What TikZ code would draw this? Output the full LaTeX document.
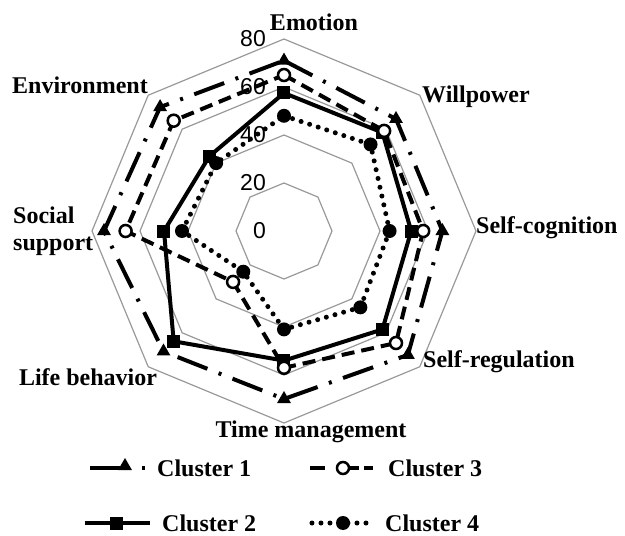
\documentclass[tikz,border=0pt]{standalone}
\usepackage{fontspec}
\setmainfont{Liberation Serif}
\setsansfont{Liberation Sans}
\usetikzlibrary{positioning,shapes.geometric}

\tikzset{
  ring/.style={draw=black!40, line width=1.2pt},
  axisnum/.style={anchor=east, inner sep=0pt, font=\sffamily\fontsize{23}{23}\selectfont},
  catlabel/.style={inner sep=0pt, font=\bfseries\fontsize{24}{27}\selectfont},
  cOne/.style={line width=4pt, dash pattern=on 32pt off 12pt on 3pt off 12pt},
  cTwo/.style={line width=4pt},
  cThree/.style={line width=4pt, dash pattern=on 13pt off 7pt},
  cFour/.style={line width=5pt, line cap=round, dash pattern=on 0pt off 9pt},
  triMark/.style={regular polygon, regular polygon sides=3, fill=black, inner sep=0pt, minimum size=16pt},
  sqMark/.style={rectangle, fill=black, inner sep=0pt, minimum size=13pt},
  openMark/.style={circle, draw=black, line width=2.5pt, fill=white, inner sep=0pt, minimum size=12pt},
  dotMark/.style={circle, fill=black, inner sep=0pt, minimum size=14pt}
}

\begin{document}
\begin{tikzpicture}[x=2.4pt, y=2.4pt]
  \useasboundingbox (-284pt,-305pt) rectangle (341pt,231pt);

  % grid rings
  \foreach \r in {20,40,60,80}
    \draw[ring] (90:\r) -- (45:\r) -- (0:\r) -- (-45:\r) -- (-90:\r) -- (-135:\r) -- (180:\r) -- (135:\r) -- cycle;
  \foreach \r in {0,20,40,60,80}
    \node[axisnum] (num\r) at (-18pt,{\r*2.4pt}) {\r};

  % data points, Emotion first, going clockwise
  \foreach \v [count=\i] in {71,66,66,73,70,71,75,73}
    \coordinate (one\i) at ({135-45*\i}:\v);
  \foreach \v [count=\i] in {57.5,58,53,58,54,65,50,44}
    \coordinate (two\i) at ({135-45*\i}:\v);
  \foreach \v [count=\i] in {65,59,58,66,57,30,66,65}
    \coordinate (three\i) at ({135-45*\i}:\v);
  \foreach \v [count=\i] in {48,51,44,45,41,24,42.5,40}
    \coordinate (four\i) at ({135-45*\i}:\v);

  % cluster 1
  \draw[cOne] (one1) -- (one2) -- (one3) -- (one4) -- (one5) -- (one6) -- (one7) -- (one8) -- cycle;
  \foreach \i in {1,...,8} \node[triMark] (triA\i) at (one\i) {};
  % cluster 2
  \draw[cTwo] (two1) -- (two2) -- (two3) -- (two4) -- (two5) -- (two6) -- (two7) -- (two8) -- cycle;
  \foreach \i in {1,...,8} \node[sqMark] (sqB\i) at (two\i) {};
  % cluster 3
  \draw[cThree] (three1) -- (three2) -- (three3) -- (three4) -- (three5) -- (three6) -- (three7) -- (three8) -- cycle;
  \foreach \i in {1,...,8} \node[openMark] (opC\i) at (three\i) {};
  % cluster 4
  \draw[cFour] (four1) -- (four2) -- (four3) -- (four4) -- (four5) -- (four6) -- (four7) -- (four8) -- cycle;
  \foreach \i in {1,...,8} \node[dotMark] (dtD\i) at (four\i) {};

  % category labels
  \node[catlabel] (emotion) at (30pt,209pt) {Emotion};
  \node[catlabel, anchor=west] (willpower) at (138pt,134pt) {Willpower};
  \node[catlabel, anchor=west] (selfcog) at (192pt,3pt) {Self-cognition};
  \node[catlabel, anchor=west] (selfreg) at (139pt,-131pt) {Self-regulation};
  \node[catlabel] (timemgmt) at (27pt,-201pt) {Time management};
  \node[catlabel] (lifebeh) at (-196pt,-146pt) {Life behavior};
  \node[catlabel, anchor=west, align=left] (social) at (-271pt,0pt) {Social\\support};
  \node[catlabel, anchor=east] (environment) at (-136pt,146pt) {Environment};

  % legend
  \coordinate (legA1) at (-194pt,-237pt);
  \coordinate (legA2) at (-138pt,-237pt);
  \draw[line width=4pt, dash pattern=on 35pt off 17pt on 3pt off 20pt] (legA1) -- (legA2);
  \node[triMark] (legAm) at (-159pt,-235pt) {};
  \node[catlabel, anchor=west] (legAt) at (-127pt,-237pt) {Cluster 1};

  \coordinate (legC1) at (26pt,-237pt);
  \coordinate (legC2) at (89pt,-237pt);
  \draw[line width=4pt, dash pattern=on 15pt off 25pt on 9pt off 5pt on 9pt off 10pt] (legC1) -- (legC2);
  \node[openMark] (legCm) at (59pt,-237pt) {};
  \node[catlabel, anchor=west] (legCt) at (104pt,-237pt) {Cluster 3};

  \coordinate (legB1) at (-199pt,-292pt);
  \coordinate (legB2) at (-134pt,-292pt);
  \draw[cTwo] (legB1) -- (legB2);
  \node[sqMark] (legBm) at (-167pt,-292pt) {};
  \node[catlabel, anchor=west] (legBt) at (-122pt,-292pt) {Cluster 2};

  \coordinate (legD1) at (28pt,-292pt);
  \coordinate (legD2) at (88pt,-292pt);
  \draw[cFour] (legD1) -- (legD2);
  \node[dotMark] (legDm) at (59pt,-292pt) {};
  \node[catlabel, anchor=west] (legDt) at (101pt,-292pt) {Cluster 4};
\end{tikzpicture}
\end{document}
